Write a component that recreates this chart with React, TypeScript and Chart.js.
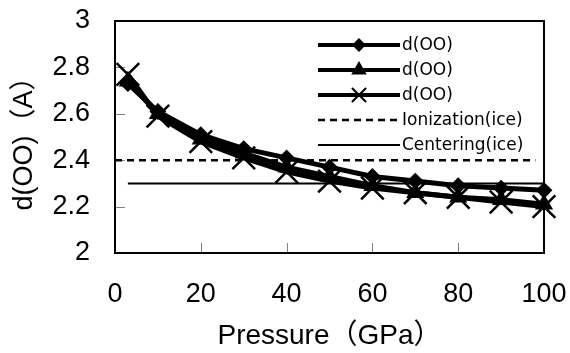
import React, { useEffect, useRef } from "react";
import { Chart, registerables } from "chart.js";

Chart.register(...registerables);

// ---- data ----
const pressure = [3, 10, 20, 30, 40, 50, 60, 70, 80, 90, 100];
const dOO_diamond = [2.73, 2.61, 2.51, 2.45, 2.41, 2.37, 2.33, 2.31, 2.29, 2.28, 2.27];
const dOO_triangle = [2.74, 2.6, 2.49, 2.43, 2.37, 2.33, 2.29, 2.26, 2.24, 2.23, 2.21];
const dOO_cross = [2.77, 2.59, 2.48, 2.41, 2.35, 2.31, 2.28, 2.26, 2.24, 2.22, 2.2];
const ionizationX = [0, 98];
const ionizationY = [2.4, 2.4];
const centeringX = [3, 100];
const centeringY = [2.3, 2.3];
const seriesLabels = ["d(OO)", "d(OO)", "d(OO)", "Ionization(ice)", "Centering(ice)"];
const xTitle = "Pressure（GPa）";
const yTitle = "d(OO)（A）";
const xMin = 0, xMax = 100, xStep = 20;
const yMin = 2, yMax = 3, yStep = 0.2;

const toPts = (xs: number[], ys: number[]) => xs.map((x, i) => ({ x, y: ys[i] }));

const FONT = "'Liberation Sans', Arial, 'Noto Sans CJK JP', sans-serif";
const LEGEND_FONT = "'DejaVu Sans', 'Noto Sans CJK JP', sans-serif";

function drawMarker(ctx: CanvasRenderingContext2D, style: string, x: number, y: number, r: number) {
  ctx.beginPath();
  if (style === "rectRot") {
    ctx.moveTo(x - r, y);
    ctx.lineTo(x, y - r);
    ctx.lineTo(x + r, y);
    ctx.lineTo(x, y + r);
    ctx.closePath();
    ctx.fill();
    ctx.stroke();
  } else if (style === "triangle") {
    for (let k = 0; k < 3; k++) {
      const a = (k * 2 * Math.PI) / 3;
      const px = x + Math.sin(a) * r;
      const py = y - Math.cos(a) * r;
      if (k === 0) ctx.moveTo(px, py);
      else ctx.lineTo(px, py);
    }
    ctx.closePath();
    ctx.fill();
    ctx.stroke();
  } else if (style === "crossRot") {
    const o = Math.cos(Math.PI / 4) * r;
    ctx.moveTo(x - o, y - o);
    ctx.lineTo(x + o, y + o);
    ctx.moveTo(x - o, y + o);
    ctx.lineTo(x + o, y - o);
    ctx.stroke();
  }
}

const framePlugin = {
  id: "frameTicks",
  beforeDatasetsDraw(chart: any) {
    const { ctx, chartArea } = chart;
    const xs = chart.scales.x;
    const ys = chart.scales.y;
    ctx.save();
    ctx.strokeStyle = "#808080";
    ctx.lineWidth = 1;
    ys.ticks.forEach((t: any) => {
      const py = Math.round(ys.getPixelForValue(t.value)) + 0.5;
      ctx.beginPath();
      ctx.moveTo(chartArea.left, py);
      ctx.lineTo(chartArea.left + 10, py);
      ctx.stroke();
    });
    xs.ticks.forEach((t: any) => {
      const px = Math.round(xs.getPixelForValue(t.value)) + 0.5;
      ctx.beginPath();
      ctx.moveTo(px, chartArea.bottom);
      ctx.lineTo(px, chartArea.bottom - 10);
      ctx.stroke();
    });
    ctx.strokeStyle = "#000";
    ctx.lineWidth = 2;
    ctx.strokeRect(chartArea.left, chartArea.top, chartArea.right - chartArea.left, chartArea.bottom - chartArea.top);
    ctx.restore();
  },
  afterDraw(chart: any) {
    const { ctx, chartArea } = chart;
    const x0 = chartArea.right - 226;
    const x1 = chartArea.right - 144;
    const tx = chartArea.right - 142;
    const legendMarkers: Record<string, number> = { rectRot: 5.5, triangle: 7, crossRot: 10 };
    ctx.save();
    ctx.font = `17px ${LEGEND_FONT}`;
    ctx.textBaseline = "middle";
    ctx.fillStyle = "#000";
    chart.data.datasets.forEach((ds: any, i: number) => {
      const y = chartArea.top + 24 + 25 * i;
      ctx.strokeStyle = "#000";
      ctx.lineWidth = ds.legendLineWidth;
      ctx.setLineDash(ds.borderDash || []);
      ctx.beginPath();
      ctx.moveTo(x0, y);
      ctx.lineTo(x1, y);
      ctx.stroke();
      ctx.setLineDash([]);
      if (ds.pointRadius > 0) {
        ctx.lineWidth = 2;
        drawMarker(ctx, ds.pointStyle, (x0 + x1) / 2, y, legendMarkers[ds.pointStyle]);
      }
      ctx.fillText(ds.label, tx, y + 1);
    });
    ctx.restore();
  },
};

const zeroPad = (s: any) => {
  s.paddingTop = 0;
  s.paddingBottom = 0;
  s.paddingLeft = 0;
  s.paddingRight = 0;
};

export default function App() {
  const ref = useRef<HTMLCanvasElement | null>(null);
  useEffect(() => {
    if (!ref.current) return;
    const mk = (label: string, xs: number[], ys: number[], style: string, r: number, bw: number) => ({
      label,
      data: toPts(xs, ys),
      borderColor: "#000",
      backgroundColor: "#000",
      borderWidth: 5,
      legendLineWidth: 4,
      pointStyle: style,
      pointRadius: r,
      pointBorderWidth: bw,
      pointBackgroundColor: "#000",
      pointBorderColor: "#000",
      tension: 0,
      clip: false,
    });
    const chart = new Chart(ref.current, {
      type: "line",
      data: {
        datasets: [
          mk(seriesLabels[0], pressure, dOO_diamond, "rectRot", 7, 2),
          mk(seriesLabels[1], pressure, dOO_triangle, "triangle", 8.5, 2),
          mk(seriesLabels[2], pressure, dOO_cross, "crossRot", 16, 2.5),
          {
            label: seriesLabels[3],
            data: toPts(ionizationX, ionizationY),
            borderColor: "#000",
            borderWidth: 2.5,
            legendLineWidth: 2.5,
            borderDash: [7, 5],
            pointRadius: 0,
            clip: false,
          },
          {
            label: seriesLabels[4],
            data: toPts(centeringX, centeringY),
            borderColor: "#000",
            borderWidth: 2,
            legendLineWidth: 2,
            pointRadius: 0,
            clip: false,
          },
        ] as any,
      },
      options: {
        responsive: false,
        animation: false,
        events: [],
        layout: { padding: { left: 0, top: 21, right: 26, bottom: 0 } },
        plugins: {
          legend: { display: false },
          tooltip: { enabled: false },
        },
        scales: {
          x: {
            type: "linear",
            min: xMin,
            max: xMax,
            ticks: {
              stepSize: xStep,
              color: "#000",
              font: { family: FONT, size: 27 },
              padding: 25,
              maxRotation: 0,
              callback: (v: any) => String(Math.round(Number(v) * 10) / 10),
            },
            grid: { display: true, drawOnChartArea: false, drawTicks: false },
            border: { display: false },
            title: {
              display: true,
              text: xTitle,
              color: "#000",
              font: { family: FONT, size: 28 },
              padding: { top: 0, bottom: 0 },
            },
            afterFit: (s: any) => {
              s.height = 100;
              zeroPad(s);
            },
          } as any,
          y: {
            type: "linear",
            min: yMin,
            max: yMax,
            ticks: {
              stepSize: yStep,
              color: "#000",
              font: { family: FONT, size: 27 },
              padding: 25,
              callback: (v: any) => String(Math.round(Number(v) * 10) / 10),
            },
            grid: { display: true, drawOnChartArea: false, drawTicks: false },
            border: { display: false },
            title: {
              display: true,
              text: yTitle,
              color: "#000",
              font: { family: FONT, size: 27 },
              padding: { top: 8, bottom: 0 },
            },
            afterFit: (s: any) => {
              s.width = 115;
              zeroPad(s);
            },
          } as any,
        },
      },
      plugins: [framePlugin],
    });
    return () => chart.destroy();
  }, []);
  return (
    <div style={{ position: "fixed", left: 0, top: 0, width: 570, height: 353, background: "#fff" }}>
      <canvas ref={ref} width={570} height={353} />
    </div>
  );
}
